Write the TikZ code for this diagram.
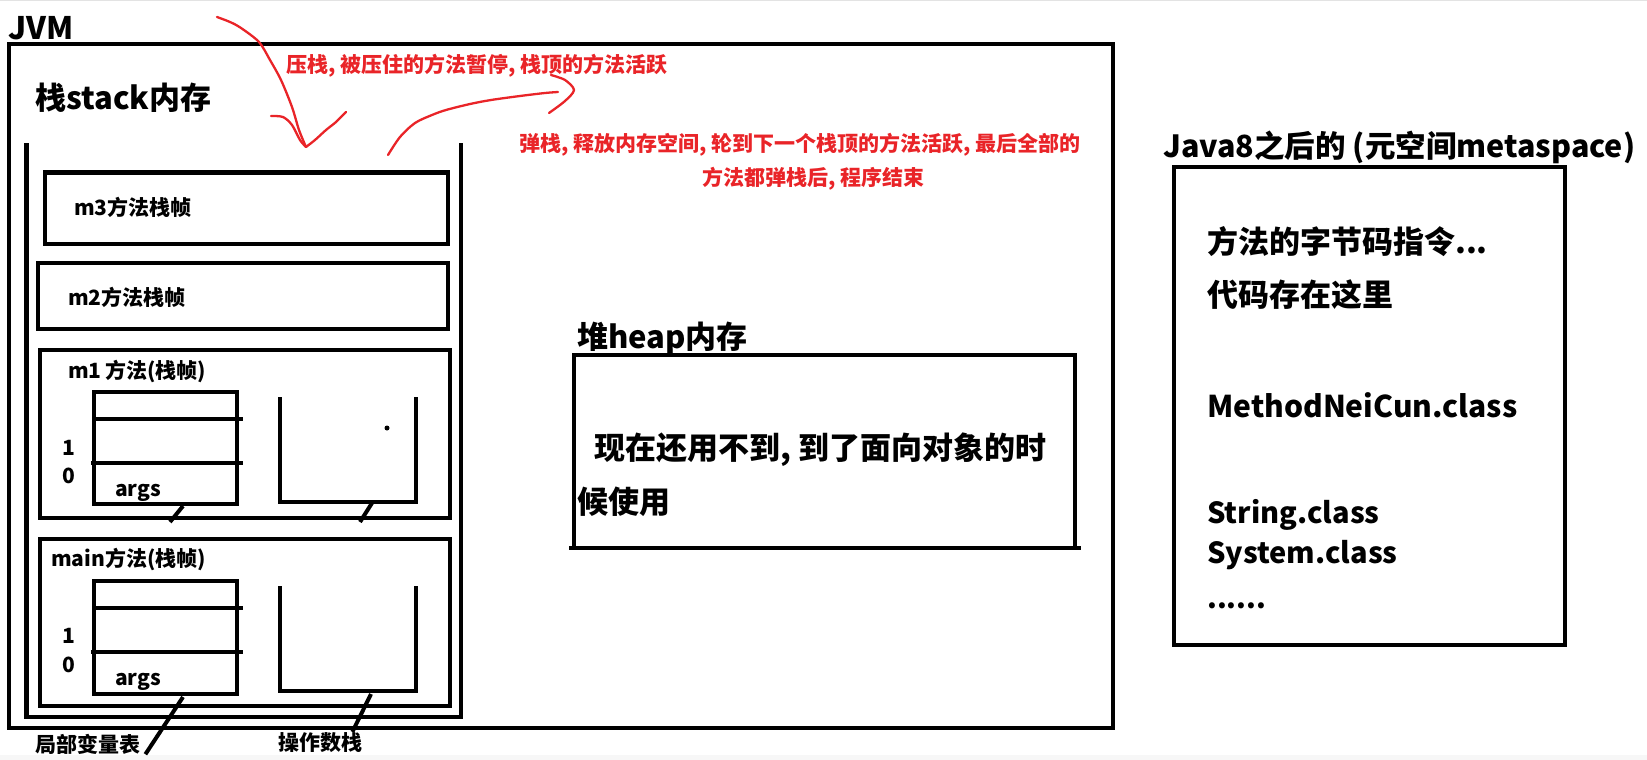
\documentclass[tikz,border=0pt]{standalone}
\usepackage{fontspec}
\setmainfont{Noto Sans CJK SC}
\usetikzlibrary{positioning}
\definecolor{inkred}{RGB}{233,36,40}

\begin{document}
\begin{tikzpicture}[x=1pt,y=-1pt,
    frame/.style={draw, line width=4.5pt, inner sep=0pt, outer sep=0pt},
    txt/.style={inner sep=0pt, anchor=base west, font=\bfseries\fontsize{#1}{#1}\selectfont},
    txt/.default=21,
    note/.style={txt=21, text=inkred},
    ink/.style={draw=inkred, line width=2.3pt, line cap=round, line join=round},
    stub/.style={draw, line width=4pt}]
  \useasboundingbox (0,0) rectangle (1647,760);
  \fill[gray!22] (0,0) rectangle (1647,1.5);
  \fill[gray!6] (0,755) rectangle (1647,760);
  % jvm and the stack
  \node[frame, minimum width=1104, minimum height=684] (jvm) at (561,386) {};
  \node[txt=31] (jvmt) at (8,40) {JVM};
  \node[txt=31] (stackt) at (35,109) {栈stack内存};
  \draw[line width=4.5pt] (26.5,143) |- (461,717) -- (461,143);
  \node[frame, minimum width=403, minimum height=71.5] (m3) at (246.5,208) {};
  \node[txt] at (74,215) {m3方法栈帧};
  \node[frame, minimum width=410, minimum height=66] (m2) at (243,296) {};
  \node[txt] at (68,305) {m2方法栈帧};
  % m1 frame
  \node[frame, minimum width=410, minimum height=168] (m1) at (245,434) {};
  \node[txt] at (68,378) {m1\,方法(栈帧)};
  \node[frame, line width=4pt, minimum width=143, minimum height=112] (lv1) at (165.5,448) {};
  \draw[stub] (94,419) -- (243,419) (91,463) -- (243,463);
  \node[txt] at (62,455) {1};
  \node[txt] at (62,483) {0};
  \node[txt] at (115,496) {args};
  \draw[stub] (280,397) |- (416,502) -- (416,397);
  \fill (387,428) circle (2.5);
  \coordinate (e1) at (170,522);
  \coordinate (e2) at (360,522);
  \path[stub] (183,506) edge (e1) (372,503) edge (e2);
  % main frame
  \node[frame, minimum width=410, minimum height=167] (mn) at (245,622.5) {};
  \node[txt] at (51,566) {main方法(栈帧)};
  \node[frame, line width=4pt, minimum width=143, minimum height=113] (lv2) at (165.5,637.5) {};
  \draw[stub] (94,608) -- (243,608) (91,652) -- (243,652);
  \node[txt] at (62,643) {1};
  \node[txt] at (62,672) {0};
  \node[txt] at (115,685) {args};
  \draw[stub] (280,586) |- (416,691) -- (416,586);
  \node[txt] (lvl) at (35,752) {局部变量表};
  \node[txt] (opl) at (278,750) {操作数栈};
  \path[stub] (183,697) edge ([xshift=5]lvl.south east);
  \path[stub] (371,694) edge ([xshift=-10]opl.north east);
  % heap
  \node[txt=31] (heapt) at (577,348) {堆heap内存};
  \node[frame, minimum width=501, minimum height=193] (heap) at (824.5,451.5) {};
  \draw[line width=4.5pt] ([xshift=-5]heap.south west) -- ([xshift=6]heap.south east);
  \node[txt=31] at (594,459) {现在还用不到, 到了面向对象的时};
  \node[txt=31] at (577,513) {候使用};
  % metaspace
  \node[txt=30.5] (metat) at (1163,157) {Java8之后的 (元空间metaspace)};
  \node[frame, minimum width=391, minimum height=478] (meta) at (1369.5,406) {};
  \node[txt=31] at (1207,253) {方法的字节码指令...};
  \node[txt=31] at (1207,306) {代码存在这里};
  \node[txt=30] at (1207,417) {MethodNeiCun.class};
  \node[txt=29] at (1207,523) {String.class};
  \node[txt=29] at (1207,563) {System.class};
  \node[txt=28] at (1207,608) {......};
  % red notes
  \node[note] (push) at (286,73) {压栈, 被压住的方法暂停, 栈顶的方法活跃};
  \node[note] (pop1) at (519,151) {弹栈, 释放内存空间, 轮到下一个栈顶的方法活跃, 最后全部的};
  \node[note] (pop2) at (702,185) {方法都弹栈后, 程序结束};
  \draw[ink] plot[smooth] coordinates {(217,17) (230,22) (241,28) (259,42) (270,60) (281,80) (292,107) (299,130) (306,147)};
  \draw[ink] plot[smooth] coordinates {(271,116) (283,117) (292,125) (300,140) (306,147)};
  \draw[ink] plot[smooth] coordinates {(306,147) (315,140) (326,130) (336,122) (346,112)};
  \draw[ink] plot[smooth] coordinates {(388,155) (400,137) (415,123) (432,115) (446,110) (470,104) (491,100) (520,96) (545,93) (558,92)};
  \draw[ink] plot[smooth] coordinates {(551,75) (565,80) (574,90) (565,101) (549,113)};
\end{tikzpicture}
\end{document}
